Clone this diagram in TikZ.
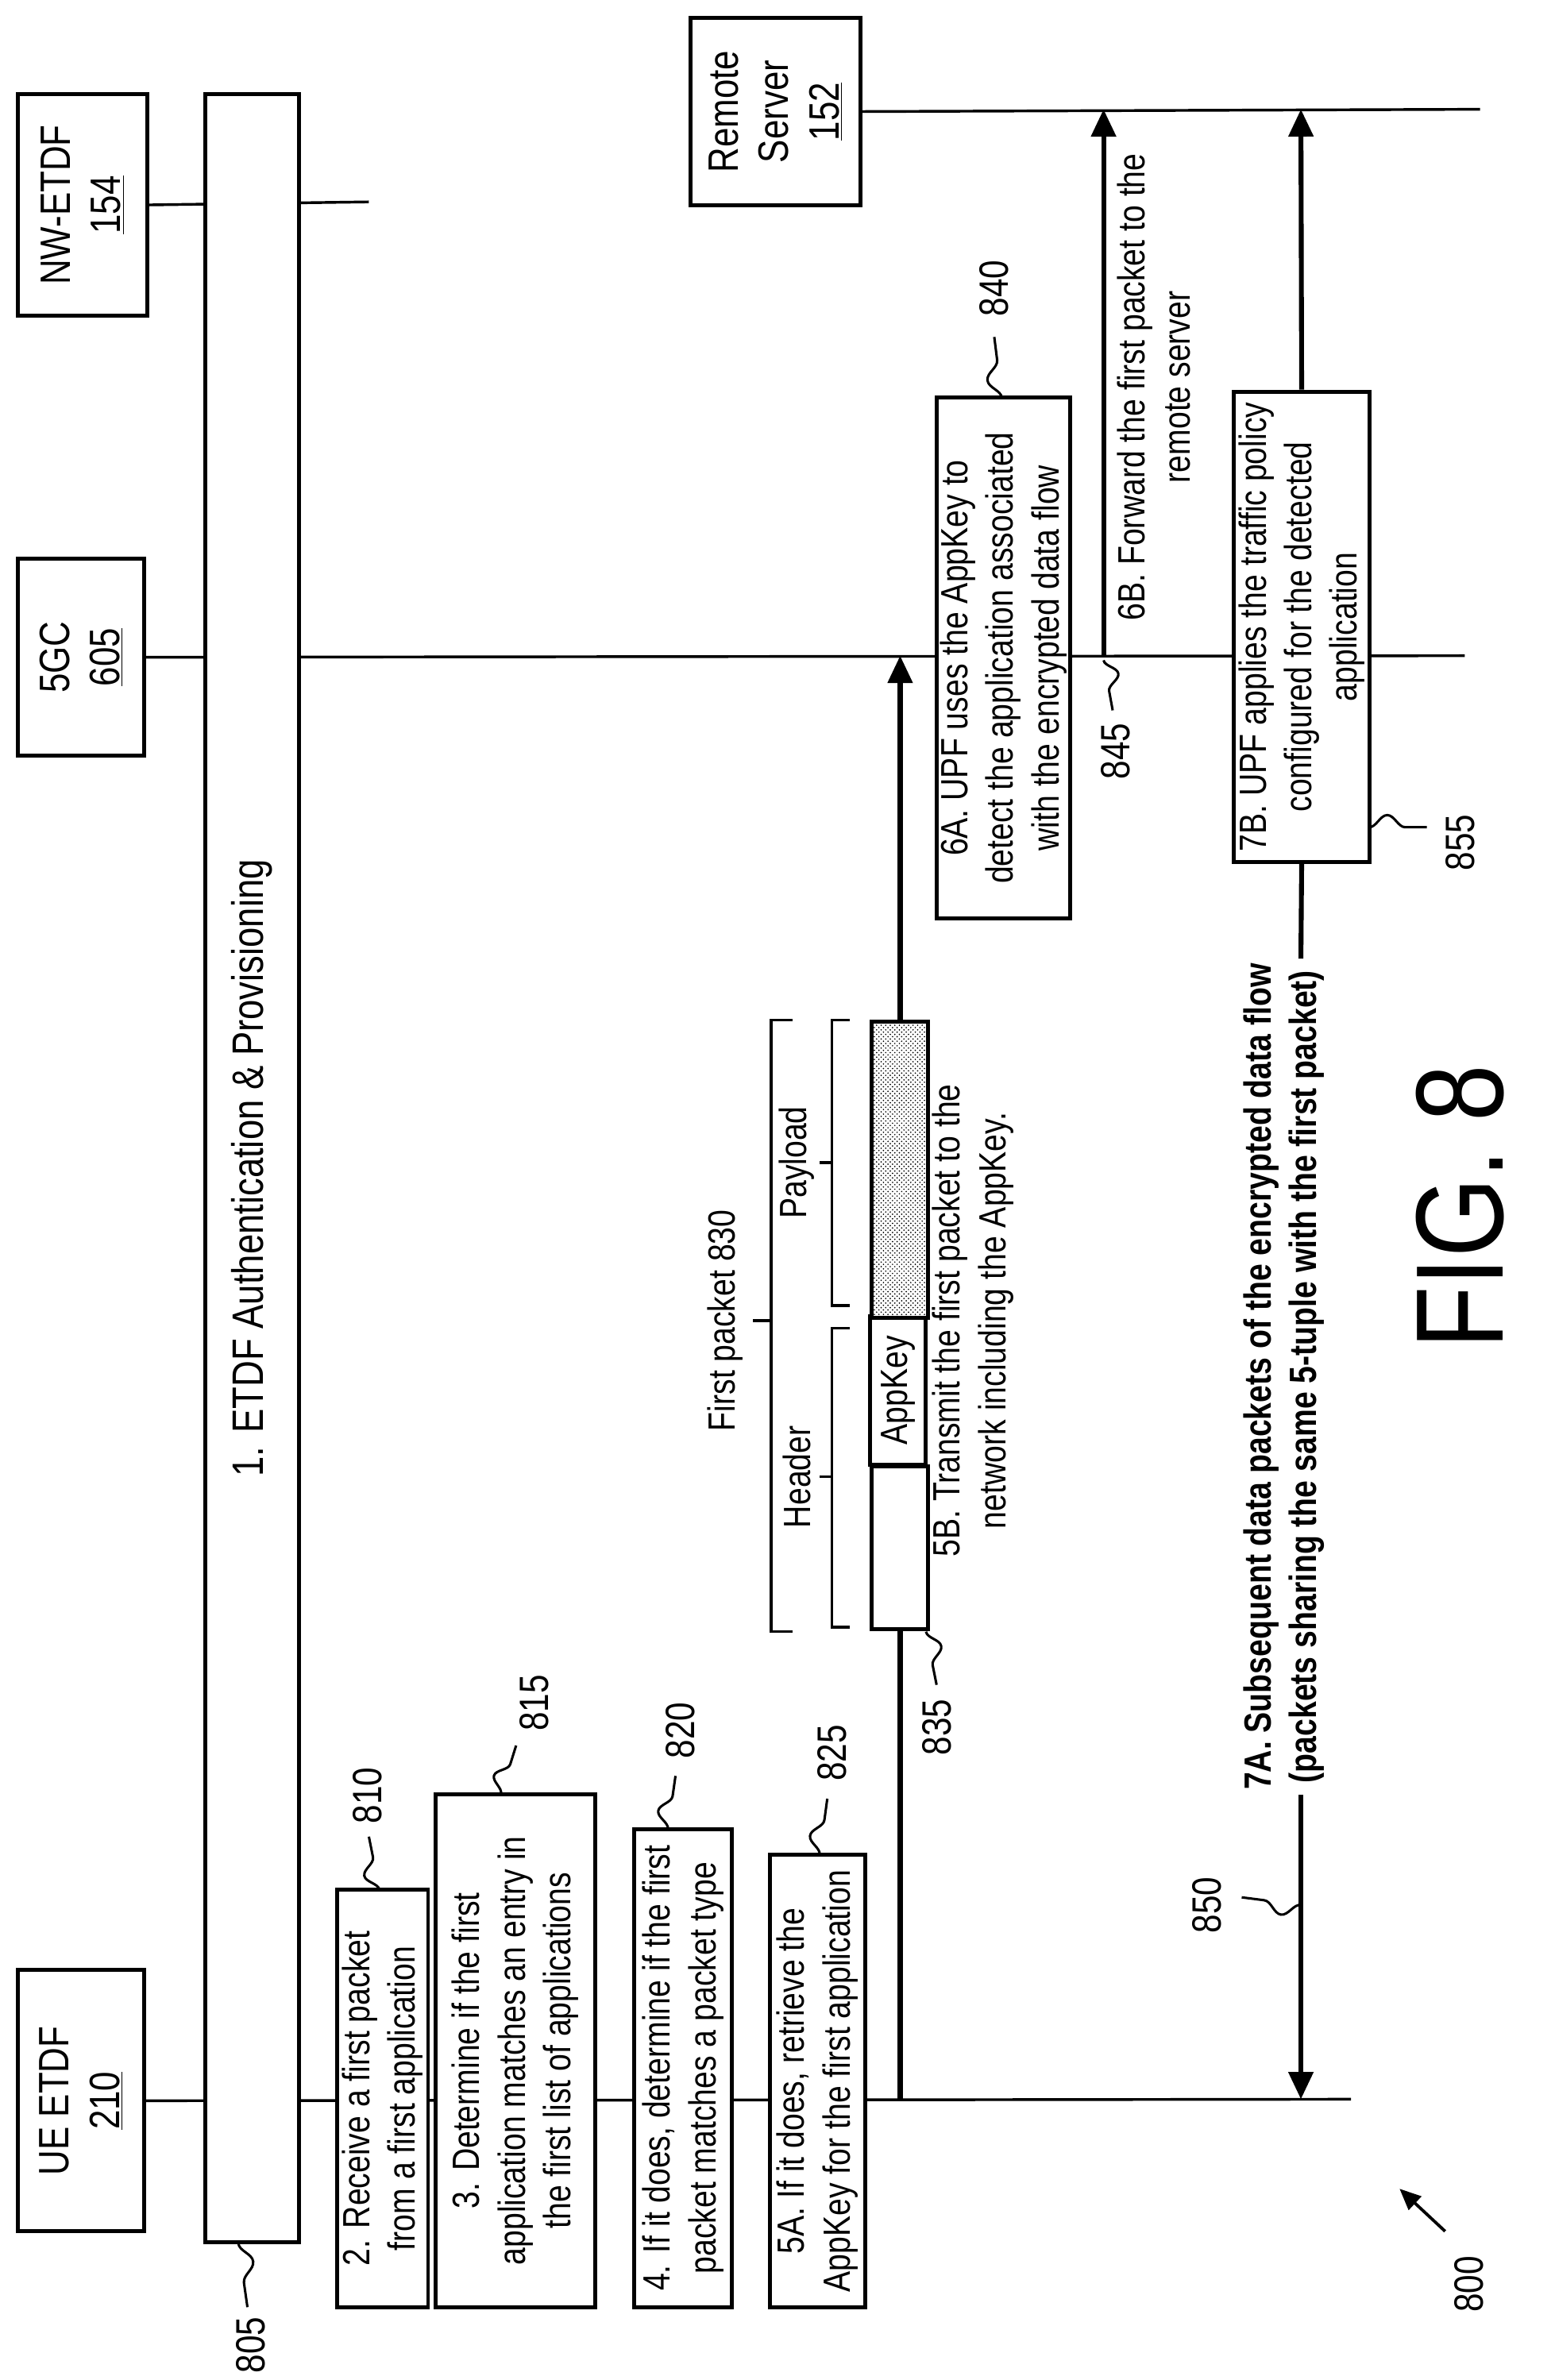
\documentclass[tikz,border=0pt]{standalone}
\usepackage{fontspec}
\setmainfont[FakeStretch=0.82]{Liberation Sans}
\usetikzlibrary{arrows.meta,patterns,decorations.pathmorphing,calc}
\begin{document}
\begin{tikzpicture}[x=1pt,y=-1pt,
  box/.style={draw,line width=2.6pt,fill=white,rotate=90,align=center,inner sep=2pt,font=\fontsize{25}{30}\selectfont},
  txt/.style={rotate=90,align=center,inner sep=0pt,font=\fontsize{25}{30}\selectfont},
  num/.style={rotate=90,inner sep=0pt,font=\fontsize{27}{30}\selectfont},
  life/.style={line width=1.8pt},
  msg/.style={line width=3.2pt,-{Triangle[length=18pt,width=16pt]}},
  sq/.style={line width=1.6pt,decorate,decoration={snake,amplitude=8pt,segment length=#1}},
  brk/.style={line width=1.8pt}]
\useasboundingbox (0,0) rectangle (1024,1568);
% lifeline heads
\node[box,minimum width=172pt,minimum height=83pt,font=\fontsize{28}{33}\selectfont] (ue) at (53.5,1384) {UE ETDF\\\underline{210}};
\node[box,minimum width=130pt,minimum height=83pt,font=\fontsize{28}{33}\selectfont] (gc) at (53.5,433) {5GC\\\underline{605}};
\node[box,minimum width=146pt,minimum height=85pt,font=\fontsize{28}{33}\selectfont] (nw) at (54.5,135) {NW-ETDF\\\underline{154}};
\node[box,minimum width=123pt,minimum height=112pt,font=\fontsize{28}{33}\selectfont] (rs) at (511,73.5) {Remote\\Server\\\underline{152}};
\coordinate (ueE) at (890,1383);
\coordinate (gcE) at (965,432);
\coordinate (nwE) at (243,133);
\coordinate (rsE) at (975,72);
\draw[life] (ue.south) -- (ueE);
\draw[life] (gc.south) -- (gcE);
\draw[life] (nw.south) -- (nwE);
\draw[life] (rs.south) -- (rsE);
% auth
\node[box,minimum width=1415pt,minimum height=62pt,font=\fontsize{29}{34}\selectfont] (auth) at (166,769.5) {1. ETDF Authentication \& Provisioning};
% messages
\coordinate (a5s) at (593,1383); \coordinate (a5e) at (593,432);
\draw[msg] (a5s) -- (a5e);
\coordinate (a6s) at (727,432); \coordinate (a6e) at (727,72);
\draw[msg] (a6s) -- (a6e);
% steps
\node[box,minimum width=275pt,minimum height=60pt] (b2) at (252,1382.5) {2. Receive a first packet\\from a first application};
\node[box,minimum width=338pt,minimum height=105pt] (b3) at (339.5,1351) {3. Determine if the first\\application matches an entry in\\the first list of applications};
\node[box,minimum width=315pt,minimum height=64pt] (b4) at (450,1362.5) {4. If it does, determine if the first\\packet matches a packet type};
\node[box,minimum width=298pt,minimum height=63pt] (b5) at (538.5,1371) {5A. If it does, retrieve the\\AppKey for the first application};
\node[box,minimum width=343pt,minimum height=88pt] (b6) at (661,433.5) {6A. UPF uses the AppKey to\\detect the application associated\\with the encrypted data flow};
\node[box,minimum width=310pt,minimum height=89pt] (b7) at (857.5,413) {7B. UPF applies the traffic policy\\configured for the detected\\application};
% packet
\node[draw,line width=2.6pt,fill=white,minimum width=37pt,minimum height=107pt,inner sep=0pt,anchor=north west] (hdr) at (573,965) {};
\node[draw,line width=2.6pt,fill=white,rotate=90,minimum width=98pt,minimum height=37pt,inner sep=0pt,font=\fontsize{25}{30}\selectfont] (key) at (591.5,916) {AppKey};
\node[draw,line width=2.6pt,preaction={fill=white},pattern=crosshatch dots,minimum width=37pt,minimum height=195pt,inner sep=0pt,anchor=north west] (pay) at (573,672) {};
% brackets
\draw[brk] (522,672) -- (508,672) -- (508,1075) -- (522,1075);
\draw[brk] (508,870) -- (496,870);
\draw[brk] (560,875) -- (548,875) -- (548,1072) -- (560,1072);
\draw[brk] (548,973) -- (540,973);
\draw[brk] (560,672) -- (548,672) -- (548,860) -- (560,860);
\draw[brk] (548,766) -- (540,766);
\node[txt] (lfp) at (478,870) {First packet 830};
\node[txt] (lhd) at (525,973) {Header};
\node[txt] (lpl) at (525,766) {Payload};
\node[txt] (t5b) at (641,870) {5B. Transmit the first packet to the\\network including the AppKey.};
\node[txt] (t6b) at (760,255) {6B. Forward the first packet to the\\remote server};
% 7A
\node[txt,font=\bfseries\fontsize{25}{30}\selectfont,fill=white,inner sep=3pt] (t7a) at (846,907) {7A. Subsequent data packets of the encrypted data flow\\(packets sharing the same 5-tuple with the first packet)};
\coordinate (u7) at (857,1383); \coordinate (g7) at (857,72);
\draw[msg] (t7a.west -| u7) -- (u7);
\draw[line width=3.2pt] (t7a.east -| u7) -- (b7.west);
\draw[msg] (b7.east) -- (g7);
% ref numbers
\coordinate (s805a) at (157,1478); \coordinate (s805b) at (163,1520);
\draw[sq=42pt] (s805a) -- (s805b); \node[num] (n805) at (165,1545) {805};
\coordinate (s810a) at (250,1245); \coordinate (s810b) at (243,1210);
\draw[sq=35pt] (s810a) -- (s810b); \node[num] (n810) at (242,1183) {810};
\coordinate (s815a) at (330,1182); \coordinate (s815b) at (340,1150);
\draw[sq=33pt] (s815a) -- (s815b); \node[num] (n815) at (352,1122) {815};
\coordinate (s820a) at (440,1205); \coordinate (s820b) at (445,1170);
\draw[sq=35pt] (s820a) -- (s820b); \node[num] (n820) at (448,1140) {820};
\coordinate (s825a) at (540,1222); \coordinate (s825b) at (545,1185);
\draw[sq=37pt] (s825a) -- (s825b); \node[num] (n825) at (548,1155) {825};
\coordinate (s835a) at (610,1075); \coordinate (s835b) at (617,1110);
\draw[sq=36pt] (s835a) -- (s835b); \node[num] (n835) at (617,1138) {835};
\coordinate (s840a) at (660,262); \coordinate (s840b) at (655,222);
\draw[sq=40pt] (s840a) -- (s840b); \node[num] (n840) at (655,190) {840};
\coordinate (s845a) at (727,435); \coordinate (s845b) at (733,468);
\draw[sq=33pt] (s845a) -- (s845b); \node[num] (n845) at (735,495) {845};
\coordinate (s850a) at (857,1255); \coordinate (s850b) at (818,1250);
\draw[sq=39pt] (s850a) -- (s850b); \node[num] (n850) at (795,1255) {850};
\coordinate (s855a) at (902,545); \coordinate (s855b) at (940,545);
\draw[sq=38pt] (s855a) -- (s855b); \node[num] (n855) at (962,555) {855};
% fig
\node[txt,font=\fontsize{82}{90}\selectfont] (fig) at (962,795) {FIG. 8};
\node[num] (n800) at (968,1505) {800};
\coordinate (b800) at (952,1470); \coordinate (p800) at (922,1442);
\draw[line width=2pt,-{Triangle[length=14pt,width=12pt]}] (b800) -- (p800);
\end{tikzpicture}
\end{document}
